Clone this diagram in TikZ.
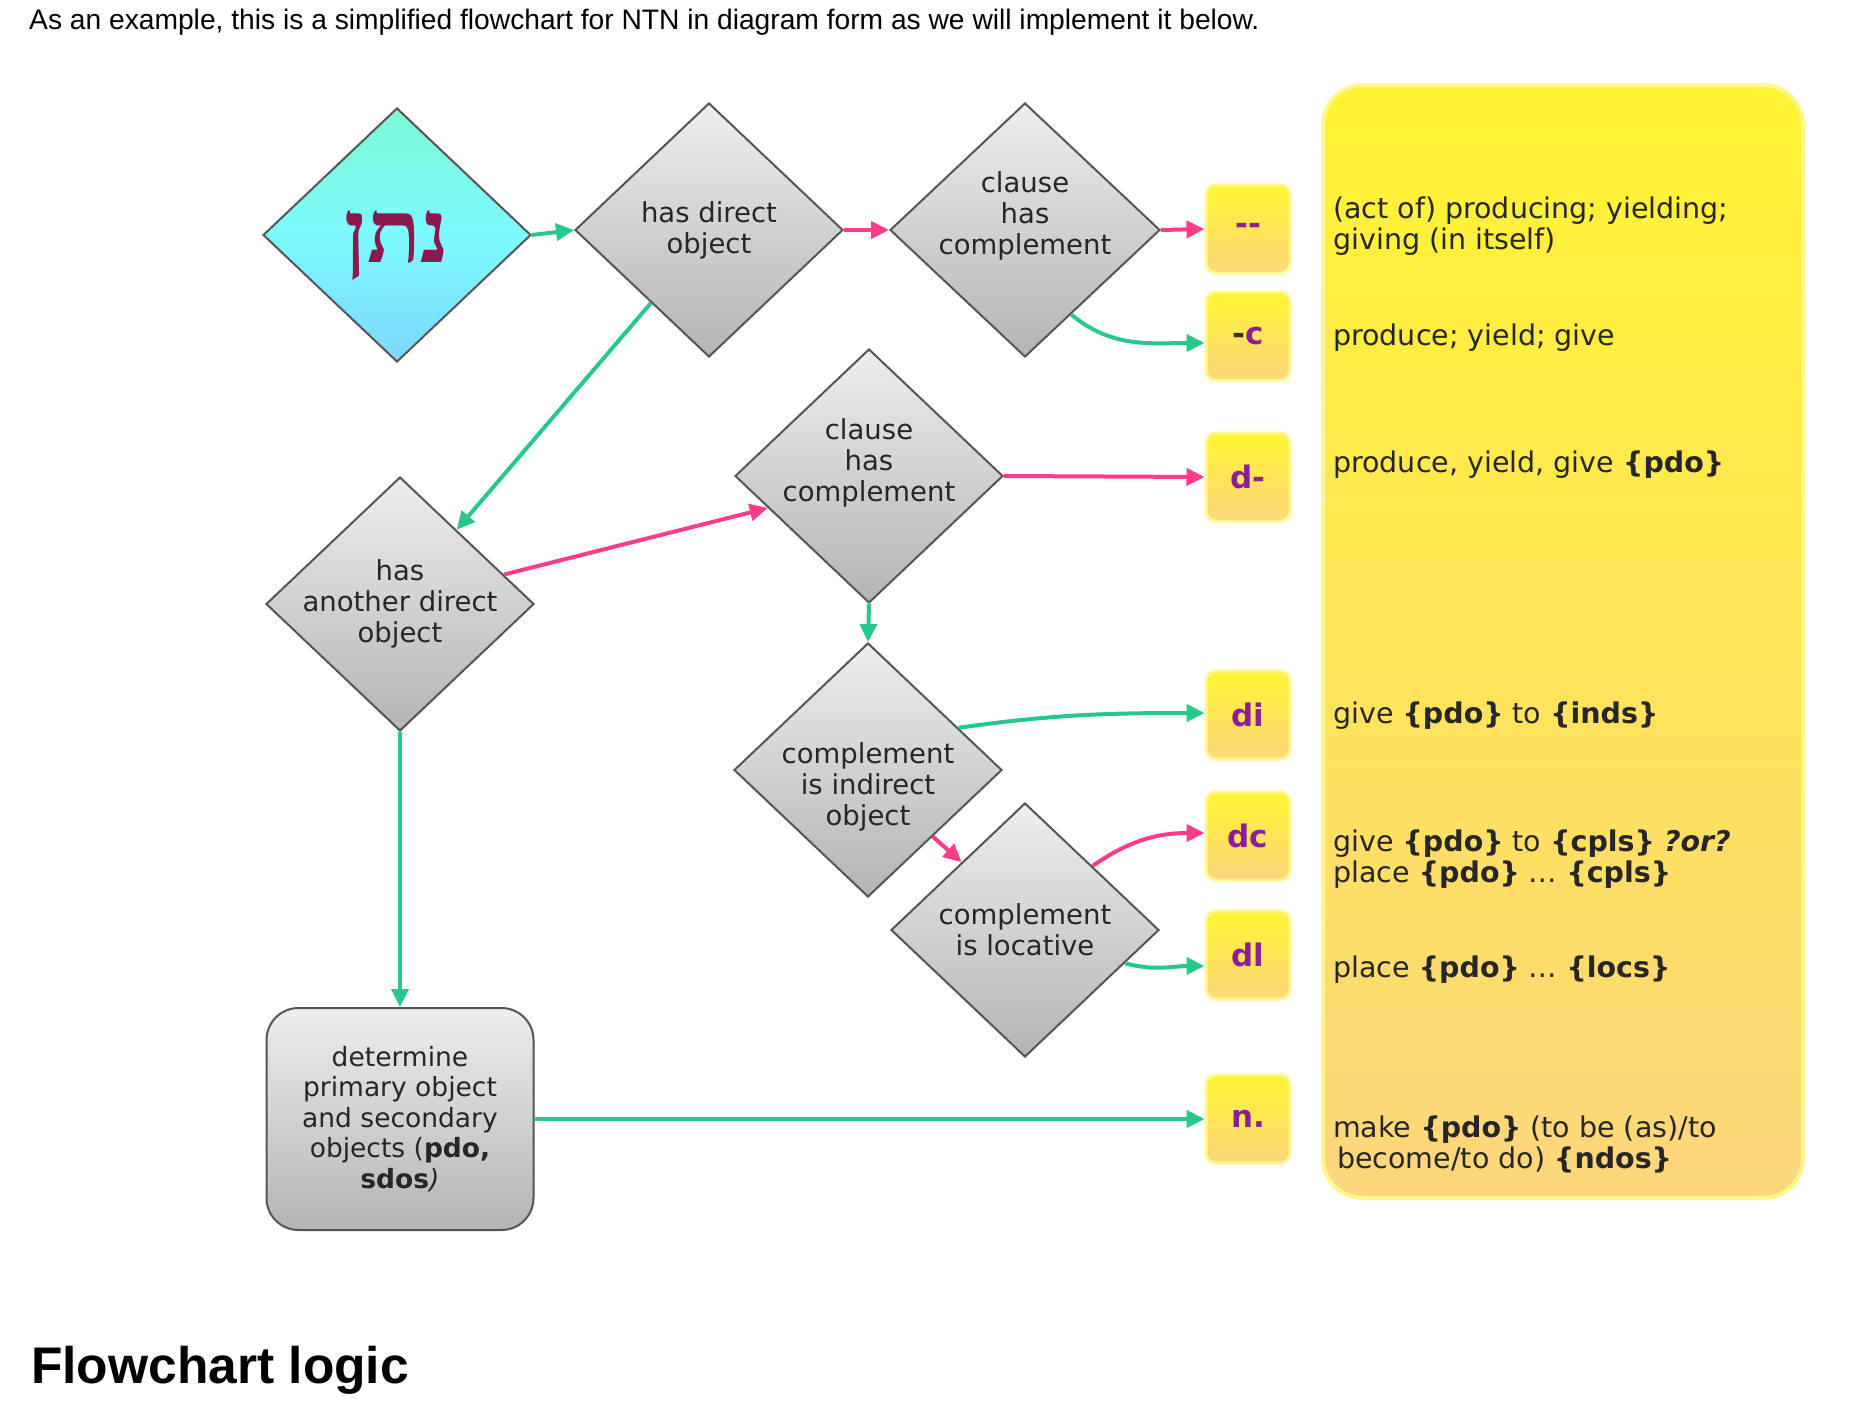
\documentclass[tikz,border=0pt]{standalone}
\usepackage{fontspec}
\setmainfont{DejaVu Sans}
\newfontfamily\headfont{Liberation Sans}
\newfontfamily\hebfont[Script=Hebrew]{Liberation Serif}
\TeXXeTstate=1
\usetikzlibrary{shapes.geometric,arrows.meta,calc}

\definecolor{grn}{RGB}{40,200,140}
\definecolor{pnk}{RGB}{255,60,140}
\definecolor{prp}{RGB}{140,30,150}
\definecolor{bord}{RGB}{85,85,85}
\definecolor{gtop}{RGB}{238,238,238}
\definecolor{gbot}{RGB}{180,180,180}
\definecolor{ytop}{RGB}{255,244,50}
\definecolor{ybot}{RGB}{253,214,125}
\definecolor{yglow}{RGB}{255,247,140}
\definecolor{hebc}{RGB}{140,25,75}
\definecolor{ctop}{RGB}{125,248,215}
\definecolor{cmid}{RGB}{125,250,252}
\definecolor{cbot}{RGB}{125,215,255}

\begin{document}
\begin{tikzpicture}[x=1pt,y=-1pt,
  dia/.style={diamond, draw=bord, line width=2pt, minimum width=268pt, minimum height=254pt,
    inner sep=0pt, top color=gtop, bottom color=gbot},
  dtext/.style={align=center, font=\fontsize{27.5}{31}\selectfont, text=black!85},
  ybox/.style={rectangle, rounded corners=10pt, minimum width=84pt, minimum height=88pt,
    draw=yglow, line width=3pt, top color=ytop, bottom color=ybot, inner sep=0pt,
    font=\fontsize{31}{36}\selectfont\bfseries, text=prp},
  ptext/.style={anchor=west, align=left, inner sep=0pt, font=\fontsize{28.5}{31}\selectfont, text=black!85},
  ga/.style={draw=grn, line width=4pt, -{Triangle[length=18pt,width=17pt]}},
  pa/.style={draw=pnk, line width=4pt, -{Triangle[length=18pt,width=17pt]}}
]
\useasboundingbox[fill=white] (0,0) rectangle (1850,1402);

% header and footer text
\node[anchor=base west, inner sep=0pt, font=\headfont\fontsize{28.2}{32}\selectfont] (head) at (29,30)
  {As an example, this is a simplified flowchart for NTN in diagram form as we will implement it below.};
\node[anchor=base west, inner sep=0pt, font=\headfont\bfseries\fontsize{51.5}{60}\selectfont] (foot) at (31,1383)
  {Flowchart logic};

% panel
\node[rectangle, rounded corners=40pt, minimum width=480pt, minimum height=1113pt,
  draw=yglow, line width=4pt, top color=ytop, bottom color=ybot] (pan) at (1563,641.5) {};

% diamonds
\node[diamond, draw=bord, line width=2pt, minimum width=268pt, minimum height=254pt, inner sep=0pt,
  top color=ctop, bottom color=cbot, middle color=cmid,
  label={[text=hebc, font=\hebfont\bfseries\fontsize{88}{96}\selectfont, yshift=-10pt]center:{\beginR נתן\endR}}]
  (heb) at (397,235) {};
\node[dia, label={[dtext]center:{has direct\\object}}] (hdo) at (709,230) {};
\node[dia, minimum width=270pt, label={[dtext, yshift=14pt]center:{clause\\has\\complement}}] (c1) at (1025,230) {};
\node[dia, label={[dtext]center:{has\\another direct\\object}}] (had) at (400,604) {};
\node[dia, label={[dtext, yshift=13pt]center:{clause\\has\\complement}}] (c2) at (869,476) {};
\node[dia, label={[dtext, yshift=-17pt]center:{complement\\is indirect\\object}}] (cio) at (868,770) {};
\node[dia, label={[dtext]center:{complement\\is locative}}] (loc) at (1025,930) {};

% determine box
\node[rectangle, rounded corners=32pt, draw=bord, line width=2pt, minimum width=267pt, minimum height=222pt,
  top color=gtop, bottom color=gbot, align=center, font=\fontsize{26.5}{30.5}\selectfont, text=black!85]
  (det) at (400,1119) {determine\\primary object\\and secondary\\objects (\textbf{pdo,}\\\textbf{sdos}\textit{)}};

% small boxes
\node[ybox] (bdd) at (1248,229) {\mbox{-}\mbox{-}};
\node[ybox] (bc)  at (1248,336) {{\color{black!80}-}c};
\node[ybox] (bd)  at (1248,477) {d-};
\node[ybox] (bdi) at (1248,715) {di};
\node[ybox] (bdc) at (1248,836) {dc};
\node[ybox] (bdl) at (1248,955) {dl};
\node[ybox] (bn)  at (1248,1119) {n.};

% panel texts
\node[ptext] (p1) at (1333,226) {(act of) producing; yielding;\\giving (in itself)};
\node[ptext] (p2) at (1333,338) {produce; yield; give};
\node[ptext] (p3) at (1333,465) {produce, yield, give \textbf{\{pdo\}}};
\node[ptext] (p4) at (1333,716) {give \textbf{\{pdo\}} to \textbf{\{inds\}}};
\node[ptext] (p5) at (1333,859) {give \textbf{\{pdo\}} to \textbf{\{cpls\}} \textbf{\textit{?or?}}\\place \textbf{\{pdo\}} … \textbf{\{cpls\}}};
\node[ptext] (p6) at (1333,970) {place \textbf{\{pdo\}} … \textbf{\{locs\}}};
\node[ptext] (p7) at (1333,1144) {make \textbf{\{pdo\}} (to be (as)/to\\\hspace*{4pt}become/to do) \textbf{\{ndos\}}};

% connectors
\draw[ga] (heb.east) -- (hdo.west);
\draw[pa] (hdo.east) -- (c1.west);
\draw[pa] (c1.east) -- (bdd.west);
\draw[ga] ($(c1.east)!0.66!(c1.south)$) to[out=-40, in=180] ($(bc.west)+(0,7)$);
\draw[ga] ($(hdo.south)!0.43!(hdo.west)$) -- ($(had.north)!0.42!(had.east)$);
\draw[pa] ($(had.north)!0.77!(had.east)$) -- ($(c2.west)!0.25!(c2.south)$);
\draw[ga] (had.south) -- (det.north);
\draw[pa] (c2.east) -- (bd.west);
\draw[ga] (c2.south) -- (cio.north);
\draw[ga] ($(cio.north)!0.67!(cio.east)$) to[out=8, in=180] ($(bdi.west)+(0,-2)$);
\draw[pa] ($(cio.east)!0.52!(cio.south)$) -- ($(loc.north)!0.47!(loc.west)$);
\draw[pa] ($(loc.north)!0.5!(loc.east)$) to[out=35, in=180] ($(bdc.west)+(0,-3)$);
\draw[ga] ($(loc.east)!0.26!(loc.south)$) to[out=-15, in=180] ($(bdl.west)+(0,11)$);
\draw[ga] (det.east) -- (bn.west);
\end{tikzpicture}
\end{document}
